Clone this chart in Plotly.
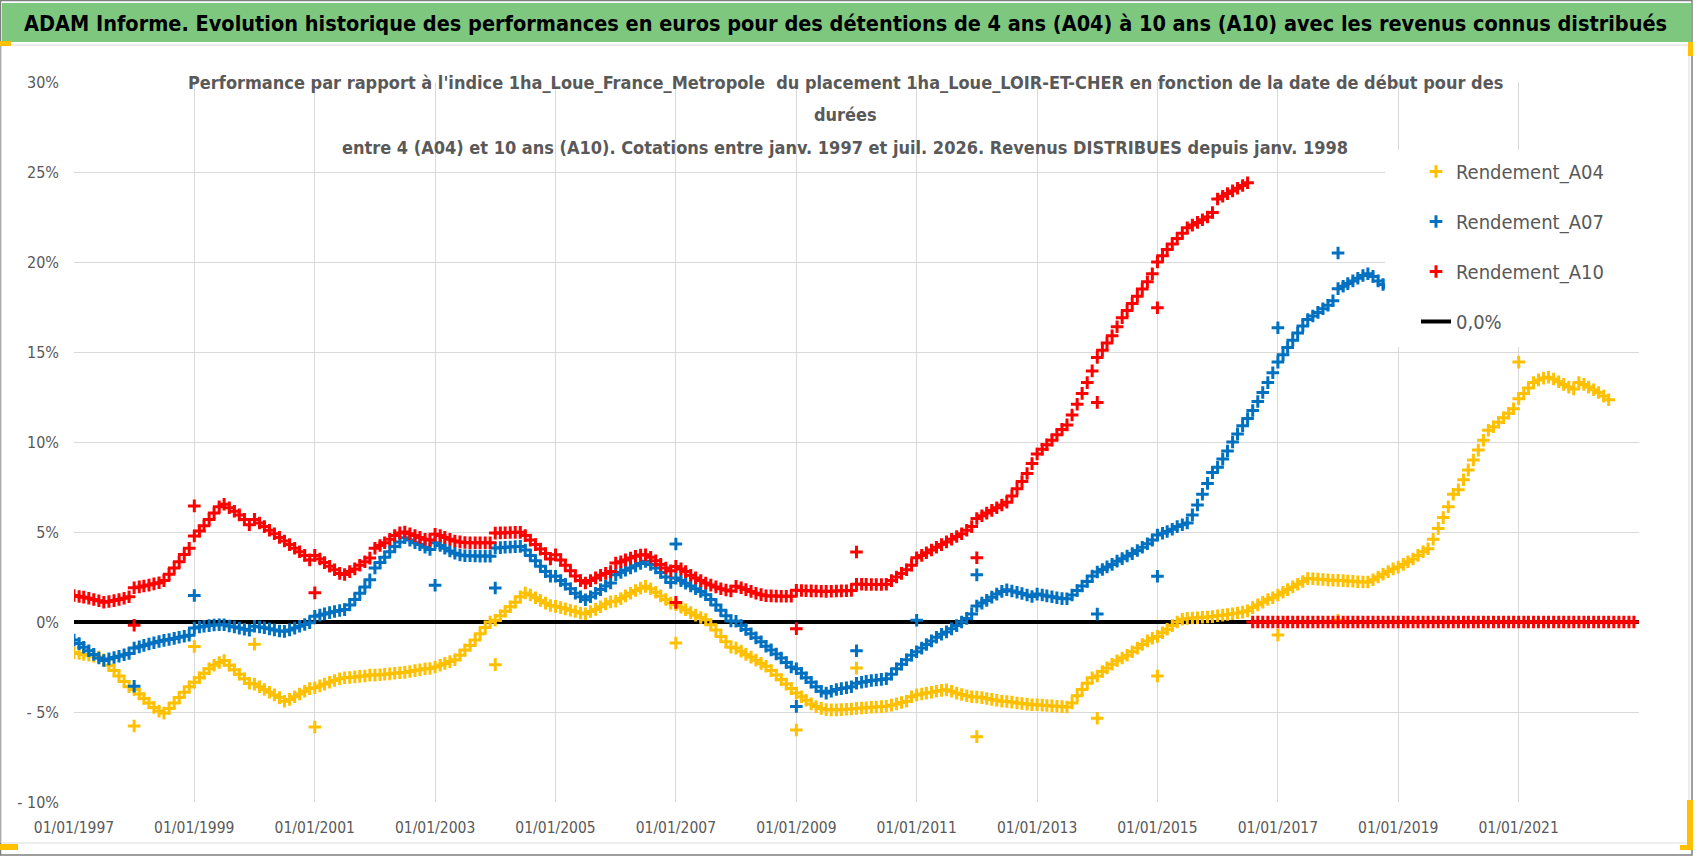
import pandas as pd
import plotly.graph_objects as go

# monthly values (%), first month 1997-01
a04_values = [
    -1.71, -1.75, -1.80, -1.85, -1.90, -1.95, -2.10, -2.40, -2.70, -3.00, -3.30, -3.60,  # 1997
    -3.75, -4.00, -4.25, -4.50, -4.75, -4.95, -5.06, -4.80, -4.50, -4.20, -3.90, -3.60,  # 1998
    -3.35, -3.10, -2.85, -2.60, -2.40, -2.25, -2.14, -2.40, -2.65, -2.90, -3.15, -3.40,  # 1999
    -3.45, -3.60, -3.75, -3.90, -4.05, -4.20, -4.40, -4.30, -4.15, -4.00, -3.85, -3.70,  # 2000
    -3.65, -3.55, -3.45, -3.35, -3.25, -3.15, -3.10, -3.08, -3.05, -3.02, -3.00, -2.95,  # 2001
    -2.95, -2.93, -2.90, -2.88, -2.85, -2.82, -2.80, -2.75, -2.70, -2.65, -2.60, -2.58,  # 2002
    -2.50, -2.40, -2.30, -2.20, -2.10, -1.85, -1.55, -1.30, -1.00, -0.65, -0.30, 0.00,   # 2003
    0.10, 0.35, 0.60, 0.85, 1.10, 1.40, 1.61, 1.50, 1.35, 1.20, 1.05, 0.92,              # 2004
    0.87, 0.80, 0.73, 0.65, 0.58, 0.50, 0.46, 0.58, 0.70, 0.85, 1.00, 1.12,              # 2005
    1.15, 1.30, 1.45, 1.60, 1.75, 1.88, 1.98, 1.85, 1.65, 1.45, 1.25, 1.05,              # 2006
    0.96, 0.82, 0.68, 0.52, 0.38, 0.25, 0.13, -0.15, -0.45, -0.80, -1.10, -1.40,         # 2007
    -1.45, -1.62, -1.80, -1.95, -2.12, -2.30, -2.46, -2.70, -2.95, -3.20, -3.45, -3.70,  # 2008
    -3.95, -4.15, -4.35, -4.55, -4.70, -4.80, -4.87, -4.88, -4.88, -4.87, -4.85, -4.83,  # 2009
    -4.80, -4.78, -4.76, -4.74, -4.72, -4.70, -4.68, -4.62, -4.55, -4.47, -4.40, -4.15,  # 2010
    -4.05, -4.00, -3.95, -3.90, -3.85, -3.80, -3.77, -3.85, -3.95, -4.03, -4.10, -4.15,  # 2011
    -4.17, -4.20, -4.25, -4.30, -4.35, -4.40, -4.42, -4.45, -4.50, -4.53, -4.56, -4.60,  # 2012
    -4.60, -4.62, -4.64, -4.66, -4.68, -4.70, -4.72, -4.50, -4.10, -3.75, -3.40, -3.10,  # 2013
    -3.00, -2.75, -2.55, -2.35, -2.15, -2.00, -1.85, -1.65, -1.45, -1.25, -1.05, -0.90,  # 2014
    -0.80, -0.60, -0.40, -0.20, 0.00, 0.15, 0.20, 0.22, 0.24, 0.26, 0.28, 0.30,          # 2015
    0.35, 0.38, 0.42, 0.46, 0.50, 0.55, 0.62, 0.80, 0.95, 1.10, 1.25, 1.35,              # 2016
    1.50, 1.65, 1.80, 1.95, 2.10, 2.25, 2.41, 2.40, 2.38, 2.36, 2.34, 2.32,              # 2017
    2.31, 2.30, 2.28, 2.26, 2.24, 2.22, 2.22, 2.35, 2.50, 2.65, 2.80, 2.95,              # 2018
    3.05, 3.20, 3.35, 3.50, 3.70, 3.90, 4.07, 4.60, 5.20, 5.80, 6.40, 7.10,              # 2019
    7.35, 7.90, 8.45, 9.00, 9.55, 10.10, 10.65, 10.85, 11.10, 11.35, 11.60, 11.85,       # 2020
    12.40, 12.70, 13.00, 13.30, 13.45, 13.55, 13.60, 13.50, 13.35, 13.20, 13.05, 12.95,  # 2021
    13.30, 13.20, 13.05, 12.90, 12.75, 12.55, 12.35,                                     # 2022
]

a07_values = [
    -1.00, -1.20, -1.40, -1.60, -1.80, -2.00, -2.14, -2.05, -1.97, -1.90, -1.82, -1.75,  # 1997
    -1.45, -1.38, -1.30, -1.22, -1.15, -1.08, -1.02, -0.97, -0.91, -0.85, -0.79, -0.73,  # 1998
    -0.33, -0.28, -0.24, -0.20, -0.17, -0.15, -0.15, -0.22, -0.28, -0.34, -0.40, -0.46,  # 1999
    -0.24, -0.28, -0.32, -0.38, -0.44, -0.50, -0.52, -0.44, -0.34, -0.24, -0.14, -0.04,  # 2000
    0.32, 0.38, 0.45, 0.52, 0.58, 0.64, 0.69, 0.95, 1.25, 1.60, 1.95, 2.35,              # 2001
    3.00, 3.30, 3.60, 3.90, 4.20, 4.45, 4.68, 4.55, 4.40, 4.30, 4.15, 4.03,              # 2002
    4.40, 4.25, 4.10, 3.95, 3.82, 3.72, 3.68, 3.68, 3.67, 3.66, 3.66, 3.65,              # 2003
    4.11, 4.13, 4.15, 4.17, 4.19, 4.20, 4.00, 3.70, 3.40, 3.10, 2.80, 2.55,              # 2004
    2.54, 2.30, 2.10, 1.85, 1.60, 1.40, 1.24, 1.40, 1.60, 1.80, 2.00, 2.17,              # 2005
    2.63, 2.75, 2.88, 3.00, 3.12, 3.25, 3.37, 3.20, 3.00, 2.75, 2.50, 2.20,              # 2006
    2.44, 2.30, 2.15, 2.00, 1.85, 1.70, 1.52, 1.25, 0.95, 0.65, 0.35, 0.06,              # 2007
    0.04, -0.20, -0.42, -0.65, -0.88, -1.10, -1.35, -1.55, -1.78, -2.00, -2.25, -2.50,   # 2008
    -2.60, -2.85, -3.10, -3.35, -3.60, -3.85, -3.95, -3.85, -3.75, -3.70, -3.65, -3.60,  # 2009
    -3.40, -3.35, -3.30, -3.25, -3.22, -3.19, -3.15, -2.90, -2.60, -2.35, -2.10, -1.85,  # 2010
    -1.65, -1.45, -1.25, -1.05, -0.85, -0.68, -0.55, -0.38, -0.20, 0.00, 0.20, 0.45,     # 2011
    0.89, 1.05, 1.20, 1.38, 1.55, 1.70, 1.79, 1.72, 1.65, 1.58, 1.50, 1.42,              # 2012
    1.55, 1.50, 1.45, 1.40, 1.35, 1.30, 1.29, 1.50, 1.75, 2.00, 2.25, 2.55,              # 2013
    2.78, 2.92, 3.06, 3.20, 3.38, 3.52, 3.67, 3.80, 3.97, 4.15, 4.35, 4.55,              # 2014
    4.83, 4.93, 5.03, 5.15, 5.30, 5.40, 5.50, 5.95, 6.50, 7.10, 7.70, 8.30,              # 2015
    8.60, 9.05, 9.50, 10.00, 10.45, 10.90, 11.30, 11.75, 12.25, 12.75, 13.30, 13.85,     # 2016
    14.44, 14.85, 15.25, 15.65, 16.05, 16.45, 16.80, 17.00, 17.20, 17.40, 17.60, 17.85,  # 2017
    18.52, 18.65, 18.80, 18.95, 19.10, 19.25, 19.35, 19.20, 18.95, 18.75, 18.60, 18.45,  # 2018
    18.80, 18.70, 18.60, 18.50, 18.40, 18.30, 18.20,                                     # 2019
]

a10_values = [
    1.47, 1.42, 1.38, 1.32, 1.25, 1.18, 1.10, 1.14, 1.19, 1.25, 1.32, 1.40,              # 1997
    1.90, 1.95, 2.00, 2.05, 2.12, 2.18, 2.30, 2.65, 3.00, 3.35, 3.75, 4.10,              # 1998
    4.78, 5.05, 5.35, 5.70, 6.05, 6.40, 6.54, 6.35, 6.15, 5.95, 5.70, 5.40,              # 1999
    5.70, 5.50, 5.30, 5.10, 4.90, 4.70, 4.50, 4.30, 4.10, 3.90, 3.70, 3.45,              # 2000
    3.70, 3.50, 3.30, 3.10, 2.90, 2.70, 2.64, 2.80, 2.95, 3.15, 3.35, 3.55,              # 2001
    4.10, 4.25, 4.40, 4.60, 4.80, 4.95, 5.00, 4.90, 4.80, 4.70, 4.60, 4.55,              # 2002
    4.87, 4.80, 4.70, 4.60, 4.50, 4.45, 4.42, 4.40, 4.40, 4.40, 4.40, 4.40,              # 2003
    4.94, 4.95, 4.96, 4.97, 4.98, 4.98, 4.80, 4.55, 4.30, 4.05, 3.80, 3.50,              # 2004
    3.74, 3.45, 3.15, 2.85, 2.55, 2.30, 2.17, 2.30, 2.45, 2.60, 2.70, 2.80,              # 2005
    3.28, 3.35, 3.45, 3.55, 3.65, 3.72, 3.74, 3.60, 3.40, 3.20, 3.00, 2.85,              # 2006
    3.09, 2.95, 2.80, 2.60, 2.45, 2.30, 2.17, 2.05, 1.95, 1.85, 1.78, 1.72,              # 2007
    1.98, 1.90, 1.80, 1.70, 1.60, 1.52, 1.46, 1.45, 1.44, 1.43, 1.43, 1.43,              # 2008
    1.76, 1.75, 1.74, 1.73, 1.72, 1.71, 1.70, 1.71, 1.72, 1.73, 1.74, 1.75,              # 2009
    2.10, 2.10, 2.09, 2.08, 2.08, 2.08, 2.10, 2.30, 2.50, 2.70, 2.90, 3.15,              # 2010
    3.57, 3.70, 3.85, 4.00, 4.15, 4.30, 4.45, 4.60, 4.75, 4.90, 5.10, 5.30,              # 2011
    5.75, 5.90, 6.05, 6.20, 6.35, 6.50, 6.65, 7.00, 7.40, 7.80, 8.25, 8.80,              # 2012
    9.33, 9.60, 9.85, 10.10, 10.40, 10.70, 10.95, 11.50, 12.10, 12.70, 13.30, 13.95,     # 2013
    14.70, 15.10, 15.50, 15.90, 16.40, 16.90, 17.30, 17.70, 18.10, 18.50, 18.90, 19.35,  # 2014
    20.00, 20.35, 20.70, 21.00, 21.30, 21.60, 21.90, 22.05, 22.20, 22.35, 22.50, 22.75,  # 2015
    23.50, 23.65, 23.80, 23.95, 24.10, 24.25, 24.40,                                     # 2016
]

# after the last 10-year start date the series is plotted at 0
a10_tail_values = [
    0.0, 0.0, 0.0, 0.0, 0.0,                                                 # 2016 aug-dec
    0.0, 0.0, 0.0, 0.0, 0.0, 0.0, 0.0, 0.0, 0.0, 0.0, 0.0, 0.0,              # 2017
    0.0, 0.0, 0.0, 0.0, 0.0, 0.0, 0.0, 0.0, 0.0, 0.0, 0.0, 0.0,              # 2018
    0.0, 0.0, 0.0, 0.0, 0.0, 0.0, 0.0, 0.0, 0.0, 0.0, 0.0, 0.0,              # 2019
    0.0, 0.0, 0.0, 0.0, 0.0, 0.0, 0.0, 0.0, 0.0, 0.0, 0.0, 0.0,              # 2020
    0.0, 0.0, 0.0, 0.0, 0.0, 0.0, 0.0, 0.0, 0.0, 0.0, 0.0, 0.0,              # 2021
    0.0, 0.0, 0.0, 0.0, 0.0, 0.0, 0.0, 0.0, 0.0, 0.0, 0.0, 0.0,              # 2022
]

# isolated points on the 1st of January (revenue distribution dates)
a04_jan_dates = ['1998-01-01', '1999-01-01', '2000-01-01', '2001-01-01', '2004-01-01',
                 '2007-01-01', '2009-01-01', '2010-01-01', '2012-01-01', '2014-01-01',
                 '2015-01-01', '2017-01-01', '2018-01-01', '2021-01-01']
a04_jan_values = [-5.78, -1.36, -1.23, -5.83, -2.37, -1.17, -6.00, -2.56, -6.37, -5.35,
                  -3.00, -0.72, 0.10, 14.44]
a07_jan_dates = ['1998-01-01', '1999-01-01', '2003-01-01', '2004-01-01', '2007-01-01',
                 '2009-01-01', '2010-01-01', '2011-01-01', '2012-01-01', '2014-01-01',
                 '2015-01-01', '2017-01-01', '2018-01-01']
a07_jan_values = [-3.57, 1.47, 2.04, 1.89, 4.33, -4.69, -1.60, 0.10, 2.62, 0.44, 2.54,
                  16.35, 20.50]
a10_jan_dates = ['1998-01-01', '1999-01-01', '2001-01-01', '2007-01-01', '2009-01-01',
                 '2010-01-01', '2012-01-01', '2014-01-01', '2015-01-01']
a10_jan_values = [-0.18, 6.45, 1.62, 1.09, -0.37, 3.89, 3.57, 12.20, 17.46]

zero_dates = ['1997-01-01', '2023-01-01']
zero_values = [0.0, 0.0]

x_ticks = ['1997-01-01', '1999-01-01', '2001-01-01', '2003-01-01', '2005-01-01',
           '2007-01-01', '2009-01-01', '2011-01-01', '2013-01-01', '2015-01-01',
           '2017-01-01', '2019-01-01', '2021-01-01']
y_ticks = [-10, -5, 0, 5, 10, 15, 20, 25, 30]
y_tick_labels = ['- 10%', '- 5%', '0%', '5%', '10%', '15%', '20%', '25%', '30%']

header_text = ("ADAM Informe. Evolution historique des performances en euros pour des "
               "détentions de 4 ans (A04) à 10 ans (A10) avec les revenus connus distribués")
subtitle_lines = [
    "Performance par rapport à l'indice 1ha_Loue_France_Metropole  du placement "
    "1ha_Loue_LOIR-ET-CHER en fonction de la date de début pour des",
    "durées",
    "entre 4 (A04) et 10 ans (A10). Cotations entre janv. 1997 et juil. 2026. "
    "Revenus DISTRIBUES depuis janv. 1998",
]

W, H = 1698, 856
L, R, T, B = 74, 1639, 82, 802
FONT = "DejaVu Sans Condensed, DejaVu Sans, sans-serif"
GREY = '#595959'


def fx(px):
    return (px - L) / (R - L)


def fy(py):
    return (B - py) / (B - T)


def monthly(start, values):
    return pd.date_range(start, periods=len(values), freq='MS')


def series(name, color, values, jan_dates, jan_values, rank):
    x = list(monthly('1997-01-01', values)) + list(pd.to_datetime(jan_dates))
    y = list(values) + list(jan_values)
    return go.Scatter(
        x=x, y=y, mode='markers', name=name, legendgroup=name, legendrank=rank,
        marker=dict(symbol='cross-thin', size=9, color=color,
                    line=dict(color=color, width=3)),
    )


fig = go.Figure()

fig.add_trace(go.Scatter(
    x=pd.to_datetime(zero_dates), y=zero_values, mode='lines', name='0,0%',
    legendgroup='zero', legendrank=4, line=dict(color='black', width=4),
))
fig.add_trace(series('Rendement_A04', '#FFC000', a04_values,
                     a04_jan_dates, a04_jan_values, 1))
fig.add_trace(series('Rendement_A07', '#0070C0', a07_values,
                     a07_jan_dates, a07_jan_values, 2))
a10 = series('Rendement_A10', '#FF0000', a10_values,
             a10_jan_dates, a10_jan_values, 3)
a10.x = list(a10.x) + list(monthly('2016-08-01', a10_tail_values))
a10.y = list(a10.y) + list(a10_tail_values)
fig.add_trace(a10)

shapes = [
    # outer frame
    dict(type='rect', xref='paper', yref='paper', x0=fx(0.5), x1=fx(1692), y0=fy(0.5), y1=fy(855),
         line=dict(color='#7f7f7f', width=1.5), layer='below'),
    # green header
    dict(type='rect', xref='paper', yref='paper', x0=fx(2), x1=fx(1691), y0=fy(3), y1=fy(42),
         fillcolor='#7ec77f', line=dict(width=0), layer='below'),
    # chart area border
    dict(type='rect', xref='paper', yref='paper', x0=fx(1), x1=fx(1689), y0=fy(45), y1=fy(843),
         line=dict(color='#d9d9d9', width=1), layer='below'),
    # title box
    dict(type='rect', xref='paper', yref='paper', x0=fx(173), x1=fx(1511), y0=fy(58), y1=fy(162),
         fillcolor='white', line=dict(width=0), layer='between'),
    # legend box
    dict(type='rect', xref='paper', yref='paper', x0=fx(1385), x1=fx(1660), y0=fy(150), y1=fy(347),
         fillcolor='white', line=dict(width=0), layer='above'),
    # selection handles
    dict(type='rect', xref='paper', yref='paper', x0=fx(0), x1=fx(11), y0=fy(41), y1=fy(46),
         fillcolor='#FFC000', line=dict(width=0), layer='above'),
    dict(type='rect', xref='paper', yref='paper', x0=fx(1688), x1=fx(1693), y0=fy(42), y1=fy(56),
         fillcolor='#FFC000', line=dict(width=0), layer='above'),
    dict(type='rect', xref='paper', yref='paper', x0=fx(0), x1=fx(18), y0=fy(844), y1=fy(850),
         fillcolor='#FFC000', line=dict(width=0), layer='above'),
    dict(type='rect', xref='paper', yref='paper', x0=fx(1687), x1=fx(1693), y0=fy(800), y1=fy(850),
         fillcolor='#FFC000', line=dict(width=0), layer='above'),
    dict(type='rect', xref='paper', yref='paper', x0=fx(1680), x1=fx(1693), y0=fy(845), y1=fy(850),
         fillcolor='#FFC000', line=dict(width=0), layer='above'),
]

annotations = [
    dict(text='<b>%s</b>' % header_text, xref='paper', yref='paper', x=fx(22), y=fy(23),
         xanchor='left', yanchor='middle', showarrow=False,
         font=dict(family=FONT, size=21.5, color='black')),
]
for text, py in zip(subtitle_lines, [82, 115, 147]):
    annotations.append(dict(
        text='<b>%s</b>' % text, xref='paper', yref='paper', x=fx(845), y=fy(py),
        xanchor='center', yanchor='middle', showarrow=False,
        font=dict(family=FONT, size=18, color=GREY)))

fig.update_layout(
    width=W, height=H,
    margin=dict(l=L, r=W - R, t=T, b=H - B, pad=0),
    paper_bgcolor='white', plot_bgcolor='white',
    font=dict(family=FONT, size=15.5, color=GREY),
    showlegend=True,
    legend=dict(x=fx(1416), y=fy(152), xanchor='left', yanchor='top',
                bgcolor='white', borderwidth=0, tracegroupgap=21,
                font=dict(family=FONT, size=20, color=GREY)),
    xaxis=dict(range=['1997-01-01', '2023-01-01'], tickvals=x_ticks,
               tickformat='%d/%m/%Y', showgrid=True, gridcolor='#d9d9d9', gridwidth=1,
               zeroline=False, showline=False, ticks='', ticklabelstandoff=14,
               tickfont=dict(family=FONT, size=15.5, color=GREY)),
    yaxis=dict(range=[-10, 30], tickvals=y_ticks, ticktext=y_tick_labels,
               showgrid=True, gridcolor='#d9d9d9', gridwidth=1,
               zeroline=False, showline=False, ticks='', ticklabelstandoff=14,
               tickfont=dict(family=FONT, size=16, color=GREY)),
    shapes=shapes,
    annotations=annotations,
)

fig.write_html("out.html", config={'displayModeBar': False},
               post_script="document.body.style.margin='0';")
